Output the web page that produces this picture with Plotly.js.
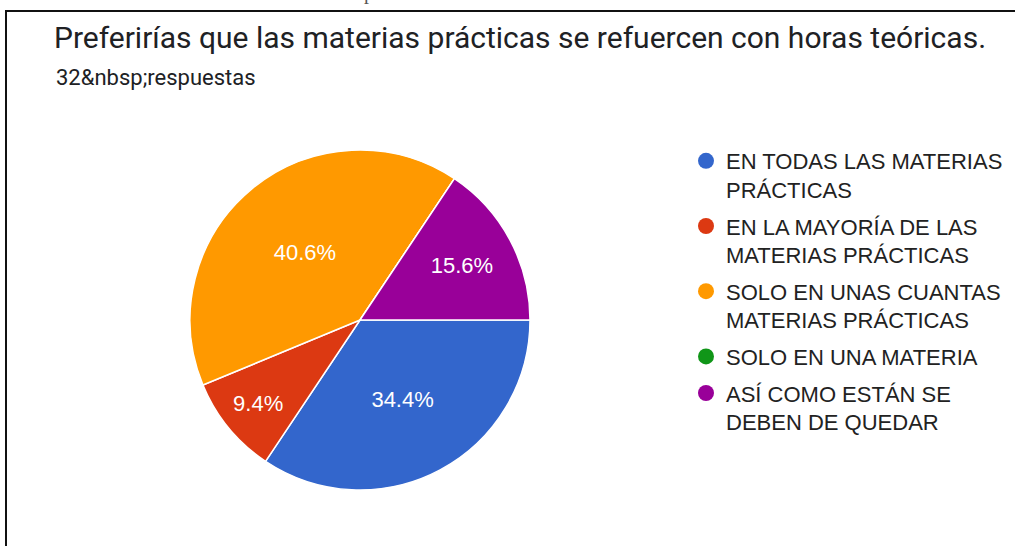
<!DOCTYPE html>
<html>
<head>
<meta charset="utf-8">
<script src="https://cdn.plot.ly/plotly-3.0.1.min.js"></script>
<style>
  html, body { margin: 0; padding: 0; background: #fff; }
  #chart { width: 1015px; height: 546px; }
</style>
</head>
<body>
<div id="chart"></div>
<script>
// answers to the survey question, in the order the form lists them
const labels = [
    'EN TODAS LAS MATERIAS<br>PRÁCTICAS',
    'EN LA MAYORÍA DE LAS<br>MATERIAS PRÁCTICAS',
    'SOLO EN UNAS CUANTAS<br>MATERIAS PRÁCTICAS',
    'SOLO EN UNA MATERIA',
    'ASÍ COMO ESTÁN SE<br>DEBEN DE QUEDAR'
];
const counts = [11, 3, 13, 0, 5];
const colors = ['#3366cc', '#dc3912', '#ff9900', '#109618', '#990099'];

const titleText = 'Preferirías que las materias prácticas se refuercen con horas teóricas.';
const subtitleText = '32&amp;nbsp;respuestas';
const croppedLine = 'las materias prácticas se refuercen con horas teóricas.';

const W = 1015, H = 546;
const px = v => v / W;
const py = v => 1 - v / H;

const pie = {
    type: 'pie',
    labels: labels,
    values: counts,
    sort: false,
    direction: 'clockwise',
    rotation: 90,
    marker: { colors: colors, line: { color: '#ffffff', width: 1.5 } },
    texttemplate: '%{percent:.1%}',
    textposition: 'inside',
    insidetextorientation: 'horizontal',
    textfont: { family: 'Arial, "Liberation Sans", sans-serif', size: 22, color: '#ffffff' },
    domain: { x: [px(190), px(530)], y: [py(490), py(150)] },
    showlegend: false,
    hoverinfo: 'label+percent'
};

// round legend markers like the form's legend
const legendTraces = labels.map((name, i) => ({
    type: 'scatter',
    mode: 'markers',
    x: [null],
    y: [null],
    name: name,
    legendgroup: 'g' + i,
    marker: { color: colors[i], size: 20, symbol: 'circle' },
    hoverinfo: 'skip'
}));

const layout = {
    width: W,
    height: H,
    margin: { l: 0, r: 0, t: 0, b: 0 },
    paper_bgcolor: '#ffffff',
    plot_bgcolor: '#ffffff',
    xaxis: { visible: false },
    yaxis: { visible: false },
    title: {
        text: titleText,
        x: px(54),
        xanchor: 'left',
        xref: 'paper',
        y: py(37),
        yanchor: 'middle',
        yref: 'paper',
        font: { family: 'Roboto, Arial, sans-serif', size: 30, color: '#202124' }
    },
    legend: {
        x: px(686),
        xanchor: 'left',
        y: py(140),
        yanchor: 'top',
        valign: 'top',
        traceorder: 'grouped',
        tracegroupgap: 5,
        font: { family: 'Arial, "Liberation Sans", sans-serif', size: 22, color: '#222222' },
        bgcolor: 'rgba(0,0,0,0)'
    },
    annotations: [
        {
            text: subtitleText,
            xref: 'paper', yref: 'paper',
            x: px(54), xanchor: 'left',
            y: py(78), yanchor: 'middle',
            showarrow: false,
            font: { family: 'Roboto, Arial, sans-serif', size: 22, color: '#202124' }
        },
        {
            text: croppedLine,
            xref: 'paper', yref: 'paper',
            x: px(262), xanchor: 'left',
            y: py(-8), yanchor: 'middle',
            showarrow: false,
            font: { family: '"Liberation Serif", "Times New Roman", serif', size: 20, color: '#555555' }
        }
    ],
    shapes: [
        { type: 'line', xref: 'paper', yref: 'paper', x0: px(5), x1: 1, y0: py(11), y1: py(11),
          line: { color: '#111111', width: 2 } },
        { type: 'line', xref: 'paper', yref: 'paper', x0: px(6), x1: px(6), y0: 0, y1: py(11),
          line: { color: '#111111', width: 2 } }
    ]
};

Plotly.newPlot('chart', [pie].concat(legendTraces), layout, { displayModeBar: false, staticPlot: true });
</script>
</body>
</html>
